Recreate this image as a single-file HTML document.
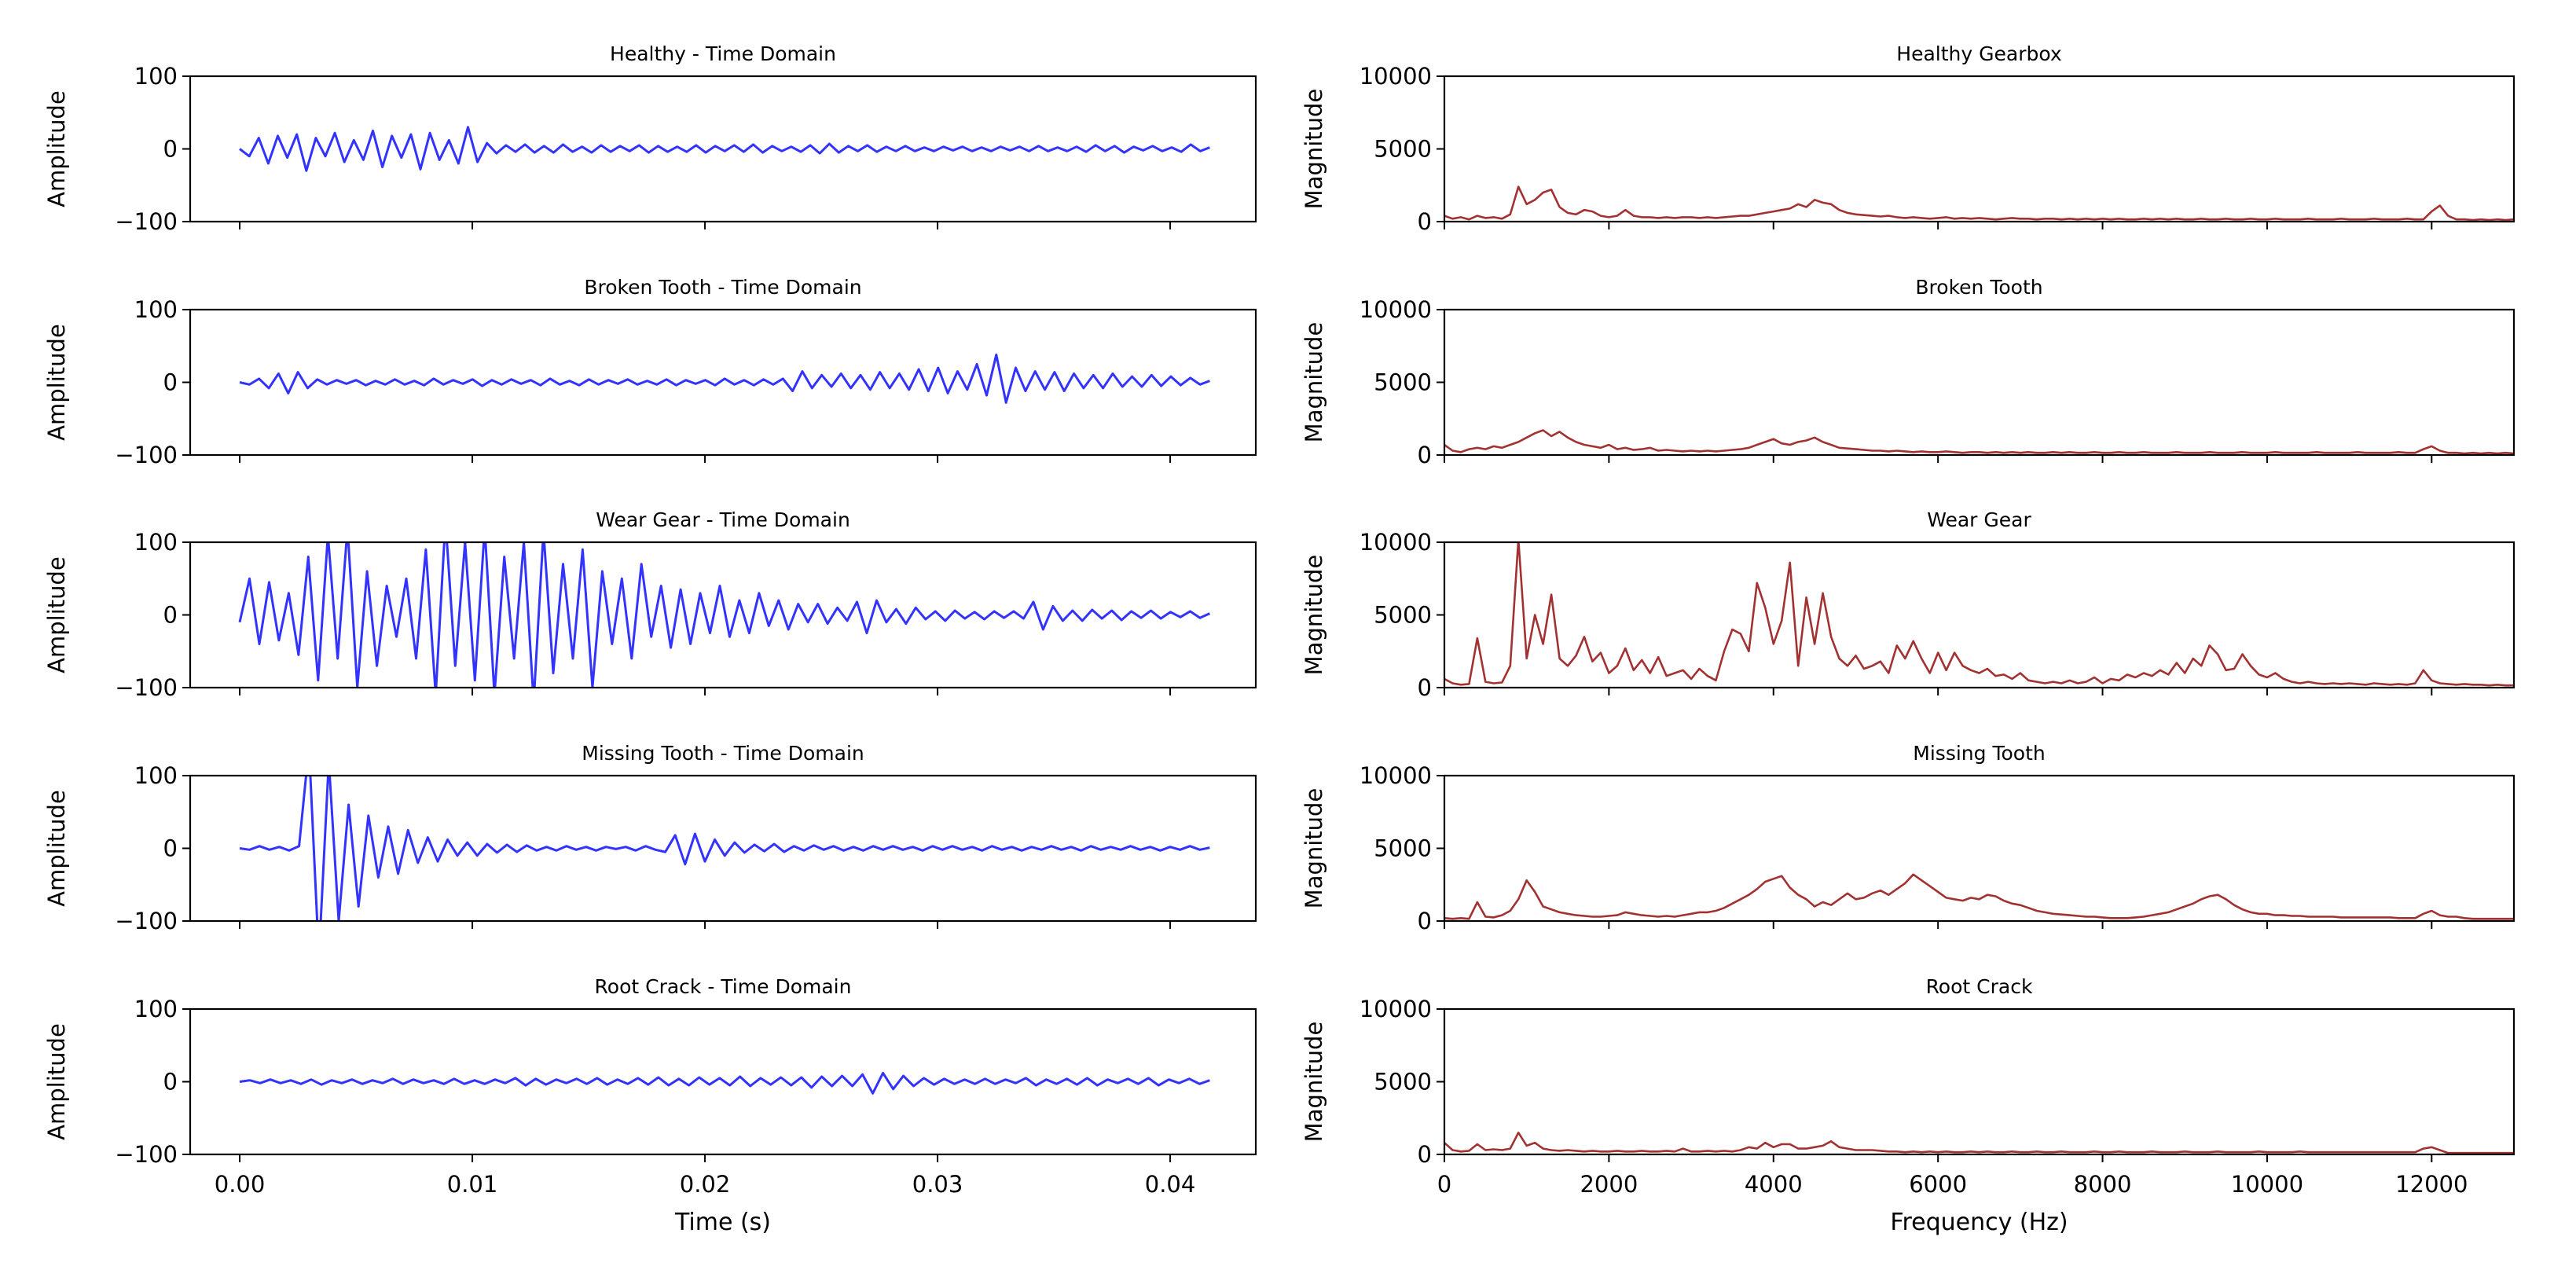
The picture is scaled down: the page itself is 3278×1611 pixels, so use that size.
<!DOCTYPE html>
<html><head><meta charset="utf-8"><style>
html,body{margin:0;padding:0;background:#fff;}
svg{display:block;font-family:"DejaVu Sans","Liberation Sans",sans-serif;}
</style></head><body>
<svg id="fig" width="3278" height="1611" viewBox="0 0 3278 1611" xmlns="http://www.w3.org/2000/svg">
<rect width="3278" height="1611" fill="#fff"/>
</svg>
<script>
const timeTicks = [0, 0.01, 0.02, 0.03, 0.04];
const timeTickLabels = ["0.00", "0.01", "0.02", "0.03", "0.04"];
const freqTicks = [0, 2000, 4000, 6000, 8000, 10000, 12000];
const freqTickLabels = ["0", "2000", "4000", "6000", "8000", "10000", "12000"];
const ampTicks = [100, 0, -100];
const ampTickLabels = ["100", "0", "\u2212100"];
const magTicks = [10000, 5000, 0];
const magTickLabels = ["10000", "5000", "0"];
const timeTitles = ["Healthy - Time Domain", "Broken Tooth - Time Domain", "Wear Gear - Time Domain", "Missing Tooth - Time Domain", "Root Crack - Time Domain"];
const freqTitles = ["Healthy Gearbox", "Broken Tooth", "Wear Gear", "Missing Tooth", "Root Crack"];
const tEnd = 0.0417;

const healthyTime = [0,-10,15,-20,18,-12,20,-30,15,-10,22,-18,12,-15,25,-25,18,-12,20,-28,22,-15,12,-20,30,-18,8,-6,5,-4,6,-5,4,-5,6,-4,3,-5,5,-4,4,-3,5,-5,4,-4,3,-4,5,-5,4,-3,5,-4,6,-5,4,-3,3,-4,5,-6,7,-5,4,-3,5,-4,3,-3,4,-3,2,-3,3,-2,3,-3,2,-3,3,-2,3,-3,4,-3,2,-3,3,-4,5,-3,4,-5,3,-2,4,-3,2,-4,6,-3,2];
const brokenTime = [0,-3,5,-8,12,-15,14,-8,4,-3,3,-2,3,-4,2,-3,4,-3,2,-4,5,-3,3,-2,4,-5,3,-3,4,-2,3,-4,5,-3,2,-4,4,-3,3,-2,4,-3,2,-3,4,-4,3,-2,3,-4,5,-3,3,-4,4,-3,5,-12,15,-8,10,-6,12,-8,10,-10,14,-8,12,-10,18,-12,20,-15,15,-10,25,-18,38,-28,20,-12,15,-10,14,-12,12,-8,10,-8,12,-6,8,-6,10,-5,8,-4,6,-3,2];
const wearTime = [-10,50,-40,45,-35,30,-55,80,-90,110,-60,120,-100,60,-70,40,-30,50,-60,90,-110,130,-70,100,-90,120,-110,80,-60,100,-120,115,-80,70,-60,90,-100,60,-40,50,-60,70,-30,40,-45,35,-40,30,-25,40,-30,20,-25,30,-15,20,-20,15,-10,15,-12,10,-8,18,-25,20,-10,8,-12,10,-6,5,-8,6,-5,4,-6,5,-4,5,-5,18,-20,12,-8,6,-8,7,-5,6,-7,5,-4,6,-5,4,-3,5,-4,2];
const missingTime = [0,-2,3,-2,2,-3,3,140,-150,120,-100,60,-80,45,-40,30,-35,25,-20,15,-18,12,-10,8,-10,6,-6,5,-5,4,-3,2,-3,3,-2,2,-3,2,-1,2,-3,3,-2,-5,18,-22,20,-18,12,-10,8,-6,5,-4,6,-5,3,-3,4,-2,3,-3,2,-3,3,-2,3,-2,2,-3,3,-2,3,-2,2,-3,3,-2,2,-3,2,-2,3,-2,2,-3,3,-2,2,-2,3,-2,2,-3,2,-2,3,-2,1];
const rootTime = [0,2,-2,3,-2,2,-3,3,-4,2,-2,3,-3,2,-2,4,-3,3,-2,2,-3,4,-3,2,-3,3,-2,5,-5,4,-4,3,-2,4,-3,5,-4,3,-3,5,-4,6,-5,4,-5,6,-4,5,-5,7,-6,5,-4,6,-5,6,-8,7,-6,8,-6,10,-16,12,-10,8,-6,5,-4,4,-3,3,-3,4,-3,3,-2,5,-5,3,-3,4,-4,5,-5,3,-2,4,-3,5,-5,3,-2,4,-3,2];

const healthyFreq = [400,200,300,150,400,250,300,200,500,2400,1200,1500,2000,2200,1000,600,500,800,700,400,300,400,800,400,300,300,250,300,250,300,300,250,300,250,300,350,400,400,500,600,700,800,900,1200,1000,1500,1300,1200,800,600,500,450,400,350,400,300,250,300,250,200,250,300,200,250,200,250,200,150,200,250,200,200,150,200,200,150,200,150,200,150,200,150,200,150,150,200,150,200,150,200,150,150,200,150,150,200,150,150,200,150,150,200,150,150,150,200,150,150,150,200,150,150,150,200,150,150,150,200,150,150,700,1100,400,150,150,100,150,100,150,100,150];
const brokenFreq = [700,300,200,400,500,400,600,500,700,900,1200,1500,1700,1300,1600,1200,900,700,600,500,700,400,500,350,400,500,300,350,300,250,300,250,300,250,300,350,400,500,700,900,1100,800,700,900,1000,1200,900,700,500,450,400,350,300,300,250,300,250,200,250,200,200,250,200,150,200,200,150,200,150,200,150,200,150,150,200,150,200,150,150,200,150,150,200,150,150,200,150,150,150,200,150,150,150,200,150,150,150,200,150,150,150,200,150,150,150,150,200,150,150,150,150,200,150,150,150,150,200,150,150,400,600,300,150,150,100,150,100,150,100,150,100];
const wearFreq = [600,300,200,250,3400,400,300,350,1500,10200,2000,5000,3000,6400,2000,1500,2200,3500,1800,2400,1000,1500,2700,1200,1900,1000,2100,800,1000,1200,600,1300,800,500,2500,4000,3700,2500,7200,5500,3000,4600,8600,1500,6200,3000,6500,3500,2000,1500,2200,1300,1500,1800,1000,2900,2000,3200,2000,1000,2400,1200,2400,1500,1200,1000,1300,800,900,600,1000,500,400,300,400,300,500,300,400,700,300,600,500,900,700,1000,800,1200,900,1700,1000,2000,1500,2900,2300,1200,1300,2300,1500,900,700,1000,600,400,300,400,300,250,300,250,300,250,200,300,250,200,250,200,300,1200,500,300,250,200,250,200,200,150,200,150,150];
const missingFreq = [200,150,200,150,1300,300,250,400,700,1500,2800,2000,1000,800,600,500,400,350,300,300,350,400,600,500,400,350,300,350,300,400,500,600,600,700,900,1200,1500,1800,2200,2700,2900,3100,2300,1800,1500,1000,1300,1100,1500,1900,1500,1600,1900,2100,1800,2200,2600,3200,2800,2400,2000,1600,1500,1400,1600,1500,1800,1700,1400,1200,1100,900,700,600,500,450,400,350,300,300,250,200,200,200,250,300,400,500,600,800,1000,1200,1500,1700,1800,1500,1100,800,600,500,500,400,400,350,350,300,300,300,300,250,250,250,250,250,250,250,200,200,200,500,700,400,300,300,200,150,150,150,150,150,150];
const rootFreq = [800,300,200,250,700,300,350,300,400,1500,600,800,400,300,250,300,250,200,250,200,200,250,200,200,250,200,200,250,200,400,200,200,250,200,250,200,300,500,400,800,500,700,700,400,400,500,600,900,500,400,300,300,300,250,200,200,150,200,150,200,150,200,150,150,200,150,200,150,150,200,150,150,200,150,150,200,150,150,150,200,150,150,200,150,150,150,200,150,150,150,200,150,150,150,200,150,150,150,150,200,150,150,150,150,200,150,150,150,150,150,150,150,150,150,150,150,150,150,150,400,500,300,100,100,100,100,100,100,100,100,100];

const timeSeries = [healthyTime, brokenTime, wearTime, missingTime, rootTime];
const freqSeries = [healthyFreq, brokenFreq, wearFreq, missingFreq, rootFreq];
const freqStep = 100;

const NS = "http://www.w3.org/2000/svg";
const svg = document.getElementById("fig");
const tops = [97, 394, 690, 987, 1284];
const PH = 185;
const L = {x0: 242, x1: 1598, min: -0.00213, max: 0.04368};
const R = {x0: 1838, x1: 3199, min: 0, max: 13000};
function mk(tag, attrs, parent) {
  const e = document.createElementNS(NS, tag);
  for (const k in attrs) e.setAttribute(k, attrs[k]);
  (parent || svg).appendChild(e);
  return e;
}
function xScale(ax, v) { return ax.x0 + (v - ax.min) / (ax.max - ax.min) * (ax.x1 - ax.x0); }
function yScale(top, lo, hi, v) { return top + PH - (v - lo) / (hi - lo) * PH; }

for (let col = 0; col < 2; col++) {
  const ax = col === 0 ? L : R;
  const lo = col === 0 ? -100 : 0, hi = col === 0 ? 100 : 10000;
  const yT = col === 0 ? ampTicks : magTicks;
  const yL = col === 0 ? ampTickLabels : magTickLabels;
  const xT = col === 0 ? timeTicks : freqTicks;
  const xL = col === 0 ? timeTickLabels : freqTickLabels;
  for (let r = 0; r < 5; r++) {
    const top = tops[r];
    const g = mk("g", {});
    
    
    const cid = "clip" + col + r;
    const cp = mk("clipPath", {id: cid}, g);
    mk("rect", {x: ax.x0, y: top, width: ax.x1 - ax.x0, height: PH}, cp);
    const data = col === 0 ? timeSeries[r] : freqSeries[r];
    let d = "";
    data.forEach((v, i) => {
      const xv = col === 0 ? i * tEnd / (data.length - 1) : i * freqStep;
      d += (i ? "L" : "M") + xScale(ax, xv).toFixed(1) + "," + yScale(top, lo, hi, v).toFixed(1);
    });
    const p = mk("path", {d: d, fill: "none", stroke: col === 0 ? "#3333ff" : "#a23232", "stroke-width": col === 0 ? 3 : 2.6, "stroke-linejoin": "round", "clip-path": "url(#" + cid + ")"}, g);
    
    
    const fr = mk("rect", {x: ax.x0, y: top, width: ax.x1 - ax.x0, height: PH, fill: "none", stroke: "#000", "stroke-width": 2.2}, g);
    
    
    yT.forEach((v, i) => {
      const y = yScale(top, lo, hi, v);
      mk("line", {x1: ax.x0 - 10, x2: ax.x0, y1: y, y2: y, stroke: "#000", "stroke-width": 2}, g);
      const t = mk("text", {x: ax.x0 - 16, y: y + 10, "text-anchor": "end", "font-size": 29, fill: "#000"}, g);
      t.textContent = yL[i];
      
      
    });
    xT.forEach((v, i) => {
      const x = xScale(ax, v);
      mk("line", {x1: x, x2: x, y1: top + PH, y2: top + PH + 10, stroke: "#000", "stroke-width": 2}, g);
      if (r === 4) {
        const t = mk("text", {x: x, y: top + PH + 48, "text-anchor": "middle", "font-size": 29, fill: "#000"}, g);
        t.textContent = xL[i];
        
        
      }
    });
    const tt = mk("text", {x: (ax.x0 + ax.x1) / 2, y: top - 20, "text-anchor": "middle", "font-size": 25, fill: "#000"}, g);
    tt.textContent = col === 0 ? timeTitles[r] : freqTitles[r];
    
    
    const lx = col === 0 ? 82 : 1682;
    const yl = mk("text", {x: lx, y: top + PH / 2, "text-anchor": "middle", "font-size": 29, fill: "#000", transform: "rotate(-90 " + lx + " " + (top + PH / 2) + ")"}, g);
    yl.textContent = col === 0 ? "Amplitude" : "Magnitude";
    
    
  }
  const xl = mk("text", {x: (ax.x0 + ax.x1) / 2, y: 1565, "text-anchor": "middle", "font-size": 30, fill: "#000"});
  xl.textContent = col === 0 ? "Time (s)" : "Frequency (Hz)";
  
  
}
</script>
</body></html>
